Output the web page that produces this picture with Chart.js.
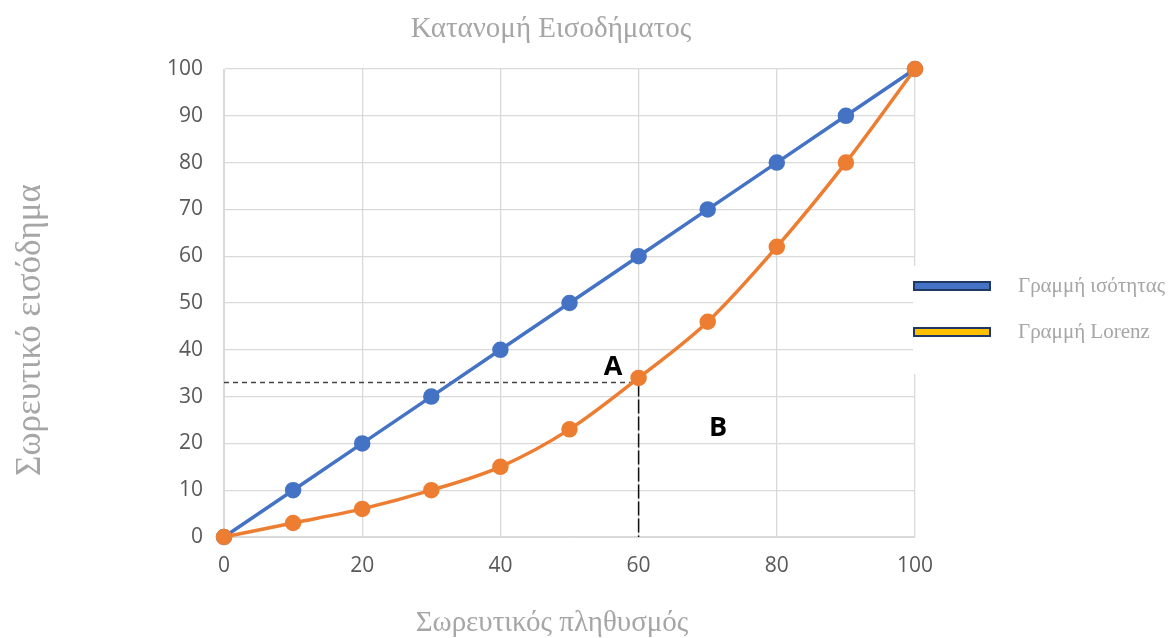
<!DOCTYPE html>
<html>
<head>
<meta charset="utf-8">
<script src="https://cdn.jsdelivr.net/npm/chart.js@4/dist/chart.umd.min.js"></script>
<style>
  html, body { margin: 0; padding: 0; background: #fff; }
  #wrap { width: 1168px; height: 638px; }
</style>
</head>
<body>
<div id="wrap"><canvas id="chart"></canvas></div>
<script>
// data
let population = [0, 10, 20, 30, 40, 50, 60, 70, 80, 90, 100];
let equality = [0, 10, 20, 30, 40, 50, 60, 70, 80, 90, 100];
let lorenz = [0, 3, 6, 10, 15, 23, 34, 46, 62, 80, 100];
let seriesNames = ["Γραμμή ισότητας", "Γραμμή Lorenz"];
let guideH = [{ x: 0, y: 33 }, { x: 60, y: 33 }];
let guideV = [{ x: 60, y: 33 }, { x: 60, y: 0 }];
let areaLabels = [
  { text: "A", x: 56.3, y: 36.3 },
  { text: "B", x: 71.5, y: 23.3 }
];

let grey = "#a6a6a6";
let serif = "'Liberation Serif', 'DejaVu Serif', serif";
let sans = "'Open Sans', sans-serif";

function pts(ys) {
  return population.map((x, i) => ({ x: x, y: ys[i] }));
}

// titles, area letters and the legend box drawn by hand
let extras = {
  id: "extras",
  afterDraw(c) {
    let ctx = c.ctx;
    let xs = c.scales.x, ys = c.scales.y;
    ctx.save();

    ctx.fillStyle = "#000";
    ctx.font = "bold 27px " + sans;
    ctx.textAlign = "center";
    ctx.textBaseline = "middle";
    areaLabels.forEach(l => {
      ctx.fillText(l.text, xs.getPixelForValue(l.x), ys.getPixelForValue(l.y));
    });

    ctx.fillStyle = grey;
    ctx.font = "29px " + serif;
    ctx.fillText("Κατανομή Εισοδήματος", 551, 29);
    ctx.fillText("Σωρευτικός πληθυσμός", 552, 623);

    ctx.save();
    ctx.translate(31, 330);
    ctx.rotate(-Math.PI / 2);
    ctx.font = "35px " + serif;
    ctx.fillText("Σωρευτικό εισόδημα", 0, 0);
    ctx.restore();

    // legend
    ctx.fillStyle = "#fff";
    ctx.fillRect(913, 266, 255, 108);
    let fills = ["#4472c4", "#ffc000"];
    let rows = [286, 332];
    rows.forEach((y, i) => {
      ctx.fillStyle = "#1f3864";
      ctx.fillRect(913, y - 5, 78, 10);
      ctx.fillStyle = fills[i];
      ctx.fillRect(915, y - 3, 74, 6);
      ctx.fillStyle = grey;
      ctx.font = "21px " + serif;
      ctx.textAlign = "left";
      ctx.fillText(seriesNames[i], 1018, y);
    });
    ctx.restore();
  }
};

let chart = new Chart(document.getElementById("chart"), {
  type: "line",
  data: {
    datasets: [
      {
        label: seriesNames[0],
        data: pts(equality),
        borderColor: "#4472c4",
        backgroundColor: "#4472c4",
        borderWidth: 3.5,
        pointRadius: 6.5,
        pointHoverRadius: 6.5,
        tension: 0,
        clip: false,
        order: 1
      },
      {
        label: seriesNames[1],
        data: pts(lorenz),
        borderColor: "#ed7d31",
        backgroundColor: "#ed7d31",
        borderWidth: 3.5,
        pointRadius: 6.5,
        pointHoverRadius: 6.5,
        cubicInterpolationMode: "monotone",
        clip: false,
        order: 0
      },
      {
        label: "h",
        data: guideH,
        borderColor: "#444",
        borderWidth: 1.5,
        borderDash: [5, 4],
        pointRadius: 0,
        order: 2
      },
      {
        label: "v",
        data: guideV,
        borderColor: "#111",
        borderWidth: 1.5,
        borderDash: [14, 3],
        pointRadius: 0,
        order: 2
      }
    ]
  },
  options: {
    responsive: true,
    maintainAspectRatio: false,
    animation: false,
    layout: { padding: { top: 69, right: 253, left: 0, bottom: 0 } },
    plugins: {
      legend: { display: false },
      title: { display: false },
      tooltip: { enabled: false }
    },
    scales: {
      x: {
        type: "linear",
        min: 0,
        max: 100,
        ticks: { stepSize: 20, color: "#595959", padding: 16, font: { size: 21, family: sans } },
        grid: { color: "#d9d9d9", lineWidth: 1.3, drawTicks: false },
        border: { color: "#d9d9d9" },
        afterFit(a) { a.height = 101; }
      },
      y: {
        min: 0,
        max: 100,
        ticks: { stepSize: 10, color: "#595959", padding: 21, font: { size: 21, family: sans } },
        grid: { color: "#d9d9d9", lineWidth: 1.3, drawTicks: false },
        border: { color: "#d9d9d9" },
        afterFit(a) { a.width = 224; }
      }
    }
  },
  plugins: [extras]
});
</script>
</body>
</html>
